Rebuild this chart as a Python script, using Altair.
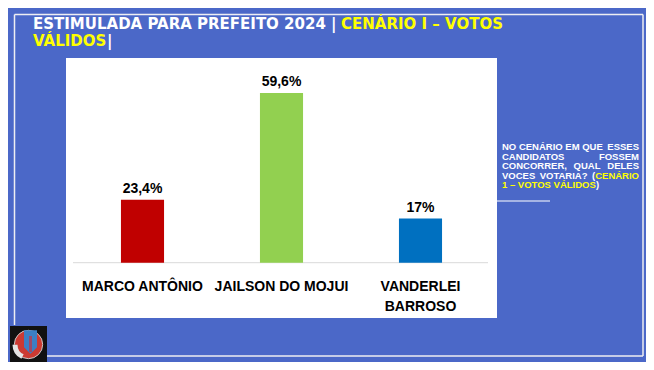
import altair as alt
import pandas as pd

# ---------------- data ----------------
candidates = ["MARCO ANTÔNIO", "JAILSON DO MOJUI", "VANDERLEI BARROSO"]
axis_labels = ["MARCO ANTÔNIO", "JAILSON DO MOJUI", "VANDERLEI\nBARROSO"]
votes = [23.4, 59.6, 17.0]
value_labels = ["23,4%", "59,6%", "17%"]
bar_colors = ["#C00000", "#92D050", "#0070C0"]

title_line1_white = "ESTIMULADA PARA PREFEITO 2024 |"
title_line1_yellow = "CENÁRIO I – VOTOS"
title_line2_yellow = "VÁLIDOS"
title_line2_white = "|"

note_l1 = ["NO CENÁRIO EM QUE", "ESSES"]
note_l2 = ["CANDIDATOS", "FOSSEM"]
note_l3 = ["CONCORRER,", "QUAL", "DELES"]
note_l4 = ["VOCES", "VOTARIA?", "(", "CENÁRIO"]
note_l5 = ["1 – VOTOS VÁLIDOS", ")"]

# ---------------- layout / style ----------------
BG = "#4B68C8"
YELLOW = "#FFFF00"
FRAME = "#EEEEF2"
W, H = 638, 354
OFF = 8  # page margin: reference pixel -> chart pixel


def X(v):
    return v - OFF


def Y(v):
    return v - OFF


one = alt.Data(values=[{"k": 1}])


def text(s, x, y, color, size, font, align="left", weight="bold"):
    return alt.Chart(one).mark_text(
        text=s, align=align, baseline="alphabetic", font=font,
        fontSize=size, fontWeight=weight, color=color
    ).encode(x=alt.value(X(x)), y=alt.value(Y(y)))


def rule(x1, y1, x2, y2, color, width):
    return alt.Chart(one).mark_rule(color=color, strokeWidth=width).encode(
        x=alt.value(X(x1)), x2=alt.value(X(x2)),
        y=alt.value(Y(y1)), y2=alt.value(Y(y2)))


def rect(x1, y1, x2, y2, color):
    return alt.Chart(one).mark_rect(color=color).encode(
        x=alt.value(X(x1)), x2=alt.value(X(x2)),
        y=alt.value(Y(y1)), y2=alt.value(Y(y2)))


layers = []

# white chart panel
layers.append(rect(66, 58, 497, 318, "#FFFFFF"))

# outer frame lines
layers.append(rule(14.5, 14.5, 643, 14.5, FRAME, 1.5))
layers.append(rule(14.5, 14.5, 14.5, 325, FRAME, 1.5))
layers.append(rule(643, 14.5, 643, 356, FRAME, 1.5))
layers.append(rule(47, 356, 643, 356, FRAME, 1.5))

# baseline of the bar chart
layers.append(rule(73, 262.7, 488, 262.7, "#D9D9D9", 1))

# ---------------- bars ----------------
df = pd.DataFrame({
    "candidato": candidates,
    "rotulo": axis_labels,
    "votos": votes,
    "texto": value_labels,
    "cor": bar_colors,
})

base_y = Y(262.7)
px_per_unit = 2.946
xscale = alt.Scale(domain=candidates, range=[X(73), X(490)],
                   paddingInner=0.69, paddingOuter=0.345)
yscale = alt.Scale(domain=[2, 70], range=[base_y, base_y - 68 * px_per_unit],
                   zero=False, nice=False, clamp=True)

xenc = alt.X("candidato:N", scale=xscale, axis=None)
yenc = alt.Y("votos:Q", scale=yscale, axis=None)

base = alt.Chart(df)
bars = base.mark_bar().encode(
    x=xenc, y=yenc, y2=alt.datum(0),
    color=alt.Color("cor:N", scale=None, legend=None),
)
vals = base.mark_text(
    dy=-7, baseline="alphabetic", font="Liberation Sans", fontSize=14,
    fontWeight="bold", color="#000000"
).encode(x=xenc, y=yenc, text="texto:N")
xlabels = base.mark_text(
    baseline="alphabetic", lineBreak="\n", lineHeight=20,
    font="Liberation Sans", fontSize=14, fontWeight="bold", color="#000000"
).encode(x=xenc, y=alt.value(Y(290.7)), text="rotulo:N")
layers += [bars, vals, xlabels]

# ---------------- title ----------------
TF = "DejaVu Sans"
layers.append(text(title_line1_white, 33, 29, "#FFFFFF", 15, TF))
layers.append(text(title_line1_yellow, 341, 29, YELLOW, 15, TF))
layers.append(text(title_line2_yellow, 33, 45.5, YELLOW, 15, TF))
layers.append(text(title_line2_white, 107, 45.5, "#FFFFFF", 15, TF))

# ---------------- side note ----------------
NF = "Liberation Sans"
NS = 9.5
L, R = 502, 639
y1, y2, y3, y4, y5 = 150, 159.5, 169, 178.5, 188
layers.append(text(note_l1[0], L, y1, "#FFFFFF", NS, NF))
layers.append(text(note_l1[1], R, y1, "#FFFFFF", NS, NF, align="right"))
layers.append(text(note_l2[0], L, y2, "#FFFFFF", NS, NF))
layers.append(text(note_l2[1], R, y2, "#FFFFFF", NS, NF, align="right"))
layers.append(text(note_l3[0], L, y3, "#FFFFFF", NS, NF))
layers.append(text(note_l3[1], 587, y3, "#FFFFFF", NS, NF, align="center"))
layers.append(text(note_l3[2], R, y3, "#FFFFFF", NS, NF, align="right"))
layers.append(text(note_l4[0], L, y4, "#FFFFFF", NS, NF))
layers.append(text(note_l4[1], 563.6, y4, "#FFFFFF", NS, NF, align="center"))
layers.append(text(note_l4[2], 595.2, y4, "#FFFFFF", NS, NF, align="right"))
layers.append(text(note_l4[3], R, y4, YELLOW, NS, NF, align="right"))
layers.append(text(note_l5[0], L, y5, YELLOW, NS, NF))
layers.append(text(note_l5[1], 596, y5, "#FFFFFF", NS, NF))
layers.append(rule(497, 201, 550, 201, "#FFFFFF", 1.2))

# ---------------- logo ----------------
layers.append(rect(10, 326, 47, 363, "#111111"))
layers.append(alt.Chart(one).mark_point(
    shape="circle", filled=True, size=804, fill="#CC3A32", stroke="#C8C8C8",
    strokeWidth=1, opacity=1
).encode(x=alt.value(X(28.5)), y=alt.value(Y(344.5))))
layers.append(alt.Chart(one).mark_point(
    shape="M -0.55 -1 L 0.55 -1 L 0.55 0.45 L 0 1 L -0.55 0.45 Z",
    filled=True, size=560, fill="#3C7FC4", opacity=1
).encode(x=alt.value(X(30.5)), y=alt.value(Y(342))))
layers.append(alt.Chart(one).mark_rect(color="#9A4A6A").encode(
    x=alt.value(X(29)), x2=alt.value(X(32)),
    y=alt.value(Y(336)), y2=alt.value(Y(352))))
layers.append(alt.Chart(one).mark_arc(color="#E4E4E4").encode(
    x=alt.value(X(28.5)), y=alt.value(Y(344.5)),
    theta=alt.value(3.6), theta2=alt.value(4.7),
    radius=alt.value(16), radius2=alt.value(11)))

chart = alt.layer(*layers).properties(
    width=W, height=H, background=BG, padding=0,
    autosize=alt.AutoSizeParams(type="none"),
).configure_view(stroke=None)

chart.save("out.html", embed_options={"renderer": "svg", "actions": False})
